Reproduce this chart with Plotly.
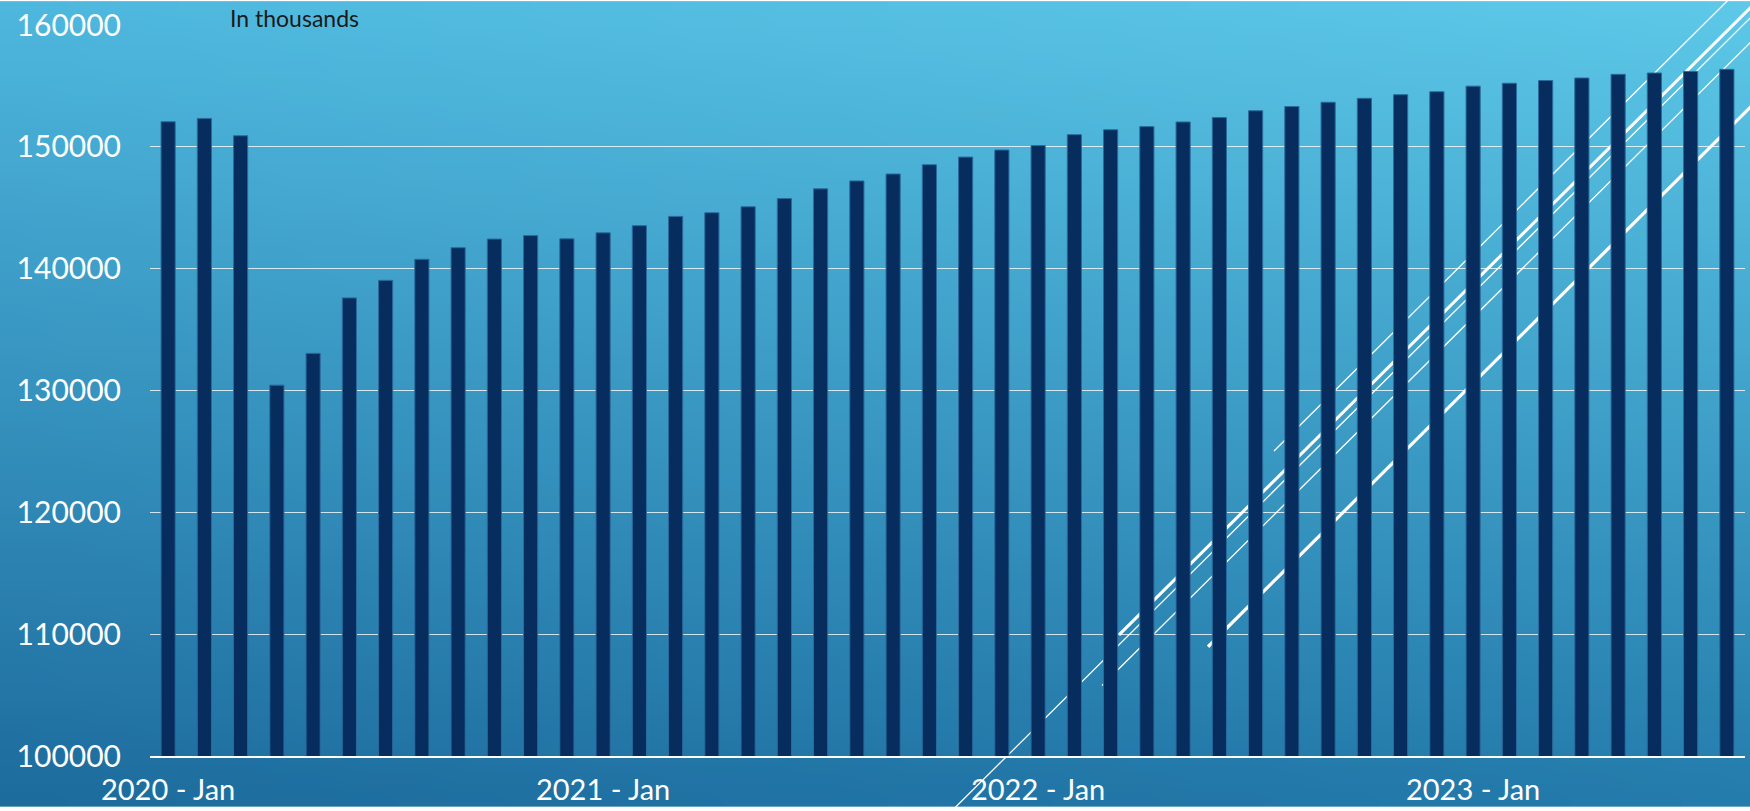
import base64
import struct
import zlib

import plotly.graph_objects as go

# Monthly employment level, in thousands, Jan 2020 - Aug 2023
years = [2020, 2021, 2022, 2023]
month_names = ["Jan", "Feb", "Mar", "Apr", "May", "Jun",
               "Jul", "Aug", "Sep", "Oct", "Nov", "Dec"]
months = [f"{y} - {m}" for y in years for m in month_names][:44]

employment = [152060, 152330, 150910, 130440, 133050, 137600, 139040, 140770,
              141720, 142430, 142720, 142450, 142940, 143530, 144290, 144590,
              145080, 145760, 146550, 147200, 147770, 148530, 149160, 149740,
              150100, 151000, 151400, 151660, 152040, 152400, 152960, 153310,
              153660, 153980, 154280, 154520, 154980, 155220, 155440, 155650,
              155950, 156060, 156190, 156360]

x_ticks = ["2020 - Jan", "2021 - Jan", "2022 - Jan", "2023 - Jan"]
y_ticks = [100000, 110000, 120000, 130000, 140000, 150000, 160000]

W, H = 1750, 811
L, R, T, B = 150, 5, 24, 51
PW, PH = W - L - R, H - T - B


def px_to_paper(px, py):
    return (px - L) / PW, (H - B - py) / PH


def gradient_png(w, h, tl, tr, bl, br):
    """Small PNG with a bilinear colour blend between four corners."""
    rows = b""
    for j in range(h):
        v = j / (h - 1)
        row = b"\x00"
        for i in range(w):
            u = i / (w - 1)
            px = bytes(
                int(round((1 - v) * ((1 - u) * tl[k] + u * tr[k])
                          + v * ((1 - u) * bl[k] + u * br[k])))
                for k in range(3)
            )
            row += px
        rows += row

    def chunk(tag, data):
        c = struct.pack(">I", len(data)) + tag + data
        return c + struct.pack(">I", zlib.crc32(tag + data) & 0xFFFFFFFF)

    png = b"\x89PNG\r\n\x1a\n"
    png += chunk(b"IHDR", struct.pack(">IIBBBBB", w, h, 8, 2, 0, 0, 0))
    png += chunk(b"IDAT", zlib.compress(rows, 9))
    png += chunk(b"IEND", b"")
    return "data:image/png;base64," + base64.b64encode(png).decode()


bg = gradient_png(64, 48, (78, 183, 221), (93, 200, 232),
                  (29, 108, 158), (36, 124, 172))

fig = go.Figure()
fig.add_trace(go.Bar(
    x=months,
    y=employment,
    marker=dict(color="#062d5e", line=dict(color="#2a6a9c", width=1)),
    showlegend=False,
))

# decorative diagonal strokes (pixel endpoints, width)
strokes = [
    ((1274, 453), (1740, -13), 1.3),
    ((937, 830), (1780, -13), 1.3),
    ((1119, 638), (1770, -13), 3.0),
    ((1102, 689), (1805, -13), 1.3),
    ((1208, 650), (1870, -13), 3.2),
]
shapes = []
for (x0, y0), (x1, y1), w in strokes:
    ax, ay = px_to_paper(x0, y0)
    bx, by = px_to_paper(x1, y1)
    shapes.append(dict(type="line", xref="paper", yref="paper",
                       x0=ax, y0=ay, x1=bx, y1=by, layer="below",
                       line=dict(color="white", width=w)))

fig.update_layout(
    width=W, height=H,
    margin=dict(l=L, r=R, t=T, b=B),
    paper_bgcolor="rgba(0,0,0,0)",
    plot_bgcolor="rgba(0,0,0,0)",
    bargap=0.61,
    font=dict(family="Lato, 'Open Sans', sans-serif", color="white"),
    images=[dict(source=bg, xref="paper", yref="paper",
                 x=-L / PW, y=1 + T / PH, sizex=W / PW, sizey=H / PH,
                 xanchor="left", yanchor="top", sizing="stretch",
                 layer="below")],
    shapes=shapes,
    annotations=[dict(text="In thousands", xref="paper", yref="paper",
                      x=(228 - L) / PW, y=(H - B - 17) / PH,
                      xanchor="left", yanchor="middle", showarrow=False,
                      font=dict(size=23, color="#1a1a1a"))],
    xaxis=dict(
        type="category",
        tickvals=x_ticks, ticktext=x_ticks,
        showgrid=False, showline=True, linecolor="white", linewidth=1.5,
        ticks="", tickfont=dict(size=29, color="white"),
        ticklabelstandoff=7,
    ),
    yaxis=dict(
        range=[100000, 160000],
        tickvals=y_ticks,
        tickformat="d",
        showgrid=True, gridcolor="rgba(255,255,255,0.78)", gridwidth=1.2,
        zeroline=False, showline=False, ticks="",
        tickfont=dict(size=30, color="white"),
        ticklabelstandoff=28,
    ),
)

fig.write_html("out.html")
